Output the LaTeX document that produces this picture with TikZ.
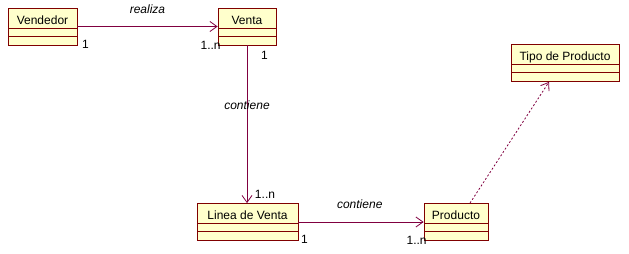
\documentclass[tikz,border=0pt]{standalone}
\usepackage{fontspec}
\setmainfont{Liberation Sans}
\usetikzlibrary{arrows.meta}
\definecolor{clsline}{RGB}{128,0,0}
\definecolor{clsfill}{RGB}{255,255,204}
\definecolor{assocline}{RGB}{128,0,64}
\begin{document}
\begin{tikzpicture}[x=1pt,y=-1pt,line width=0.8pt,
  font=\fontsize{12}{14}\selectfont,
  cls/.style={draw=clsline,fill=clsfill,minimum height=37pt,inner sep=0pt,
    text height=8.8pt,text depth=13.2pt,
    path picture={
      \foreach \d in {20,28}{\draw[clsline] ([yshift=-\d pt]path picture bounding box.north west) -- ([yshift=-\d pt]path picture bounding box.north east);}}},
  assoc/.style={draw=assocline,-{Straight Barb[length=7pt,width=10pt]}},
  dep/.style={assoc,dash pattern=on 2pt off 2pt},
  mult/.style={inner sep=0pt},
  role/.style={inner sep=0pt,font=\fontsize{12}{14}\selectfont\itshape}]
  \useasboundingbox (0,0) rectangle (629,254);
  % classes
  \node[cls,minimum width=69pt] (vendedor) at (42.5,26.5) {Vendedor};
  \node[cls,minimum width=58pt] (venta) at (247,26.5) {Venta};
  \node[cls,minimum width=101pt] (linea) at (247.5,222) {Linea de Venta};
  \node[cls,minimum width=64pt] (producto) at (456,222) {Producto};
  \node[cls,minimum width=108pt] (tipo) at (565,63) {Tipo de Producto};
  % associations
  \draw[assoc] (vendedor) -- (venta)
    node[role,pos=.5,yshift=17.5pt] {realiza}
    node[mult,at start,xshift=8pt,yshift=-17.5pt] {1}
    node[mult,at end,xshift=-7pt,yshift=-18.5pt] {1..n};
  \draw[assoc] (venta.south) -- (venta.south |- linea.north)
    node[role,pos=.38] {contiene}
    node[mult,at start,xshift=17.5pt,yshift=-9.5pt] {1}
    node[mult,at end,xshift=18pt,yshift=9pt] {1..n};
  \draw[assoc] (linea) -- (producto)
    node[role,pos=.49,yshift=18pt] {contiene}
    node[mult,at start,xshift=6pt,yshift=-17pt] {1}
    node[mult,at end,xshift=-7pt,yshift=-18pt] {1..n};
  % dependency
  \draw[dep] ([xshift=14pt]producto.north) -- ([xshift=-16pt]tipo.south);
\end{tikzpicture}
\end{document}
